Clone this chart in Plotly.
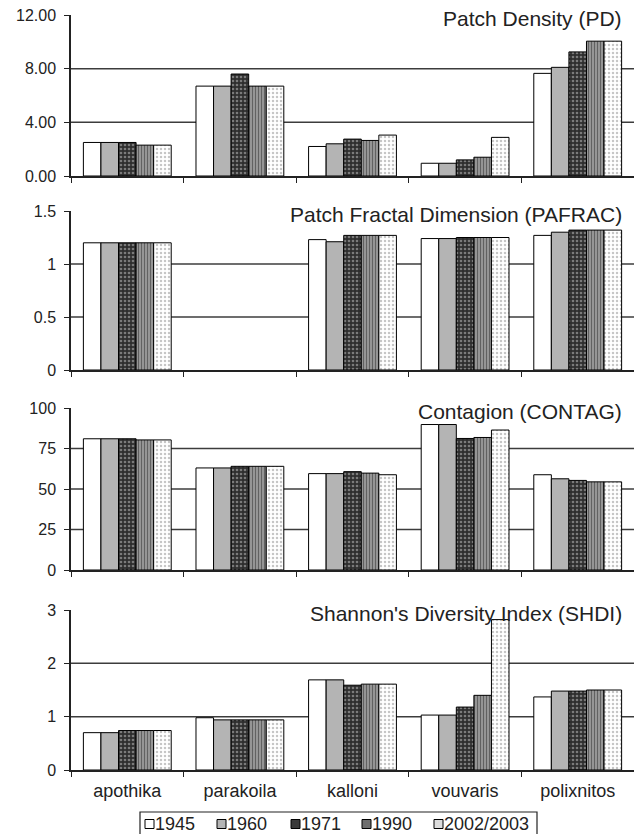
import plotly.graph_objects as go

categories = ["apothika", "parakoila", "kalloni", "vouvaris", "polixnitos"]
years = ["1945", "1960", "1971", "1990", "2002/2003"]

# Patch Density (PD)
pd_1945 = [2.5, 6.7, 2.2, 0.95, 7.65]
pd_1960 = [2.5, 6.7, 2.4, 0.95, 8.1]
pd_1971 = [2.5, 7.6, 2.75, 1.2, 9.25]
pd_1990 = [2.3, 6.7, 2.65, 1.4, 10.05]
pd_2002 = [2.3, 6.7, 3.05, 2.88, 10.05]

# Patch Fractal Dimension (PAFRAC)
pafrac_1945 = [1.2, None, 1.23, 1.24, 1.27]
pafrac_1960 = [1.2, None, 1.21, 1.24, 1.30]
pafrac_1971 = [1.2, None, 1.27, 1.25, 1.32]
pafrac_1990 = [1.2, None, 1.27, 1.25, 1.32]
pafrac_2002 = [1.2, None, 1.27, 1.25, 1.32]

# Contagion (CONTAG)
contag_1945 = [81.0, 63.0, 59.5, 89.8, 58.8]
contag_1960 = [81.0, 63.0, 59.5, 89.8, 56.3]
contag_1971 = [81.0, 64.0, 60.7, 81.2, 55.3]
contag_1990 = [80.3, 64.0, 59.8, 81.8, 54.4]
contag_2002 = [80.3, 64.0, 58.8, 86.4, 54.4]

# Shannon's Diversity Index (SHDI)
shdi_1945 = [0.70, 0.98, 1.69, 1.03, 1.37]
shdi_1960 = [0.70, 0.94, 1.69, 1.03, 1.48]
shdi_1971 = [0.74, 0.94, 1.59, 1.18, 1.48]
shdi_1990 = [0.74, 0.94, 1.61, 1.40, 1.50]
shdi_2002 = [0.74, 0.94, 1.61, 2.82, 1.50]

panel_titles = ["Patch Density (PD)", "Patch Fractal Dimension (PAFRAC)",
                "Contagion (CONTAG)", "Shannon's Diversity Index (SHDI)"]
panel_series = [
    [pd_1945, pd_1960, pd_1971, pd_1990, pd_2002],
    [pafrac_1945, pafrac_1960, pafrac_1971, pafrac_1990, pafrac_2002],
    [contag_1945, contag_1960, contag_1971, contag_1990, contag_2002],
    [shdi_1945, shdi_1960, shdi_1971, shdi_1990, shdi_2002],
]
y_ranges = [[0, 12], [0, 1.5], [0, 100], [0, 3]]
y_tickvals = [[0, 4, 8, 12], [0, 0.5, 1, 1.5], [0, 25, 50, 75, 100], [0, 1, 2, 3]]
y_ticktext = [["0.00", "4.00", "8.00", "12.00"], ["0", "0.5", "1", "1.5"],
              ["0", "25", "50", "75", "100"], ["0", "1", "2", "3"]]

styles = [
    dict(color="white", pattern=dict(shape="")),
    dict(color="#b4b4b4", pattern=dict(shape="")),
    dict(color="#2e2e2e", pattern=dict(shape=".", bgcolor="#2e2e2e", fgcolor="#c8c8c8", size=4, solidity=0.35)),
    dict(color="#8a8a8a", pattern=dict(shape="|", bgcolor="#a0a0a0", fgcolor="#222222", size=3, solidity=0.45)),
    dict(color="white", pattern=dict(shape=".", bgcolor="white", fgcolor="#8c8c8c", size=4, solidity=0.3)),
]
legend_swatch = ["white", "#b4b4b4", "#3a3a3a", "#6e6e6e", "#dcdcdc"]

# page offset (browser body margin) and geometry in page pixels
OFF = 8
PAGE_W, PAGE_H = 642, 834
P_LEFT, P_RIGHT, P_TOP, P_BOT = 71, 634, 15, 770
panel_px = [(15, 176), (211, 370), (408, 570), (610, 770)]
FIG_W, FIG_H = PAGE_W - OFF, PAGE_H - OFF
plot_w = P_RIGHT - P_LEFT
plot_h = P_BOT - P_TOP
domains = [[(P_BOT - b) / plot_h, (P_BOT - t) / plot_h] for t, b in panel_px]


def px_x(x):
    return (x - P_LEFT) / plot_w


def px_y(y):
    return (P_BOT - y) / plot_h


FONT = "Liberation Sans, Arial, sans-serif"
fig = go.Figure()

for p in range(4):
    xa = "x" if p == 0 else f"x{p+1}"
    ya = "y" if p == 0 else f"y{p+1}"
    for i, yr in enumerate(years):
        st = styles[i]
        fig.add_trace(go.Bar(
            x=categories, y=panel_series[p][i], name=yr,
            xaxis=xa, yaxis=ya, showlegend=False,
            marker=dict(color=st["color"], pattern=st["pattern"],
                        line=dict(color="black", width=1)),
        ))
    for v in y_tickvals[p][1:-1]:
        fig.add_shape(type="line", xref=f"{xa} domain", yref=ya, x0=0, x1=1, y0=v, y1=v,
                      line=dict(color="#3c3c3c", width=1.5), layer="below")
    fig.add_annotation(text=panel_titles[p], xref=f"{xa} domain", yref=f"{ya} domain",
                       x=1, y=1, xanchor="right", yanchor="middle", xshift=-10, yshift=-3,
                       showarrow=False, font=dict(family=FONT, size=21, color="#222"))

# legend (frame, swatches, labels)
LEG_L, LEG_R, LEG_T, LEG_B = 140, 537, 812, 840
leg_sym_x = [145, 217, 291, 362, 434]
LEG_CY = 824
fig.add_shape(type="rect", xref="paper", yref="paper", x0=px_x(LEG_L), x1=px_x(LEG_R),
              y0=px_y(LEG_B), y1=px_y(LEG_T), line=dict(color="#222", width=1.2),
              fillcolor="white")
for i, yr in enumerate(years):
    sx = leg_sym_x[i]
    fig.add_shape(type="rect", xref="paper", yref="paper", x0=px_x(sx), x1=px_x(sx + 9),
                  y0=px_y(LEG_CY + 4.5), y1=px_y(LEG_CY - 4.5),
                  line=dict(color="black", width=1), fillcolor=legend_swatch[i])
    fig.add_annotation(text=yr, xref="paper", yref="paper", x=px_x(sx + 9), y=px_y(LEG_CY),
                       xanchor="left", yanchor="middle", showarrow=False, borderpad=0,
                       font=dict(family=FONT, size=18, color="#222"))

layout = dict(
    width=FIG_W, height=FIG_H,
    margin=dict(l=P_LEFT - OFF, r=FIG_W - (P_RIGHT - OFF), t=P_TOP - OFF,
                b=FIG_H - (P_BOT - OFF), autoexpand=False),
    paper_bgcolor="white", plot_bgcolor="white",
    barmode="group", bargap=0.22, bargroupgap=0,
    font=dict(family=FONT, size=16, color="#222"),
    showlegend=False,
)
for p in range(4):
    xk = "xaxis" if p == 0 else f"xaxis{p+1}"
    yk = "yaxis" if p == 0 else f"yaxis{p+1}"
    ya = "y" if p == 0 else f"y{p+1}"
    xa = "x" if p == 0 else f"x{p+1}"
    layout[xk] = dict(anchor=ya, domain=[0, 1], showline=True, linecolor="#222", linewidth=1.5,
                      ticks="outside", tickson="boundaries", ticklen=5, tickcolor="#222",
                      showticklabels=(p == 3), showgrid=False, zeroline=False, automargin=False,
                      tickfont=dict(size=18, family=FONT, color="#222"), ticklabelstandoff=4,
                      ticklabeloverflow="allow",
                      categoryorder="array", categoryarray=categories)
    if p != 0:
        layout[xk]["matches"] = "x"
    layout[yk] = dict(anchor=xa, domain=domains[p], range=y_ranges[p], showline=True,
                      linecolor="#222", linewidth=1.5, ticks="outside", ticklen=5,
                      tickcolor="#222", tickvals=y_tickvals[p], ticktext=y_ticktext[p],
                      showgrid=False, zeroline=False, automargin=False, ticklabelstandoff=5,
                      ticklabeloverflow="allow",
                      tickfont=dict(size=16, family=FONT, color="#222"))
fig.update_layout(**layout)
fig.write_html("out.html")
